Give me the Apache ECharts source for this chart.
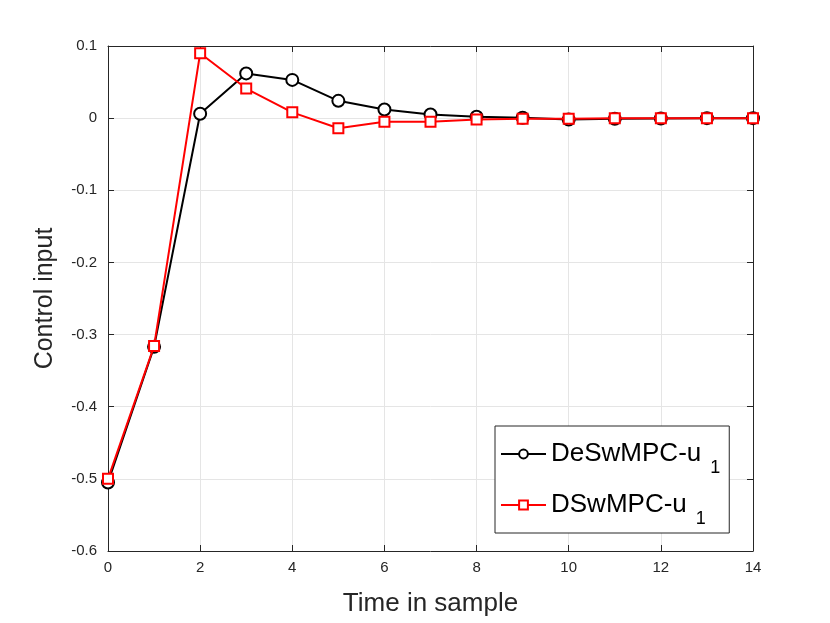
<!DOCTYPE html>
<html><head><meta charset="utf-8">
<script src="https://cdn.jsdelivr.net/npm/echarts@6/dist/echarts.min.js"></script>
<style>html,body{margin:0;padding:0;background:#fff}#c{width:830px;height:623px}</style>
</head><body><div id="c"></div>
<script>
const samples = [0,1,2,3,4,5,6,7,8,9,10,11,12,13,14];
const deswmpc = [-0.505,-0.317,0.006,0.062,0.053,0.024,0.012,0.005,0.002,0.0005,-0.002,-0.001,-0.0005,0,0];
const dswmpc  = [-0.5,-0.316,0.09,0.041,0.008,-0.014,-0.005,-0.005,-0.002,-0.001,-0.001,0,0,0,0];
const xTicks = [0,2,4,6,8,10,12,14];
const yTicks = [-0.6,-0.5,-0.4,-0.3,-0.2,-0.1,0,0.1];
const FONT = 'Liberation Sans';
const chart = echarts.init(document.getElementById('c'));
const axisCommon = {
  axisLine:{show:true,onZero:false,lineStyle:{color:'#262626',width:1}},
  axisTick:{show:true,inside:true,length:6,lineStyle:{color:'#262626'}},
};
chart.setOption({
  animation:false,
  textStyle:{fontFamily:FONT},
  grid:{left:108,right:77,top:46,bottom:72,containLabel:false},
  legend:{
    left:495,top:426,orient:'vertical',
    backgroundColor:'#fff',borderColor:'#262626',borderWidth:1,
    padding:[15,9,5,5],itemGap:15,itemWidth:45,itemHeight:11,
    textStyle:{fontFamily:FONT,fontSize:26,color:'#000',
      rich:{m:{fontSize:26,fontFamily:FONT,color:'#000'},
            s:{fontSize:18,padding:[28,0,0,9],fontFamily:FONT,color:'#000'}}},
    formatter: n => '{m|' + n.replace('-u1','-u') + '}{s|1}',
    data:['DeSwMPC-u1','DSwMPC-u1']
  },
  xAxis:[{
    type:'value',min:0,max:14,interval:2,
    name:'Time in sample',nameLocation:'middle',nameGap:40,
    nameTextStyle:{fontFamily:FONT,fontSize:26,color:'#262626'},
    axisLabel:{fontFamily:FONT,fontSize:15,color:'#262626',margin:9},
    splitLine:{show:true,lineStyle:{color:'#e5e5e5'}},
    ...axisCommon
  },{
    type:'value',position:'top',min:0,max:14,interval:2,
    axisLabel:{show:false},splitLine:{show:false},...axisCommon
  }],
  yAxis:[{
    type:'value',min:-0.6,max:0.1,interval:0.1,
    name:'Control input',nameLocation:'middle',nameGap:50,
    nameTextStyle:{fontFamily:FONT,fontSize:25,color:'#262626'},
    axisLabel:{fontFamily:FONT,fontSize:15,color:'#262626',margin:11,
      formatter:v=>{const r=Math.round(v*10)/10; return r===0?'0':String(r);}},
    splitLine:{show:true,lineStyle:{color:'#e5e5e5'}},
    ...axisCommon
  },{
    type:'value',position:'right',min:-0.6,max:0.1,interval:0.1,
    axisLabel:{show:false},splitLine:{show:false},...axisCommon
  }],
  series:[{
    name:'DeSwMPC-u1',type:'line',
    data:samples.map((x,i)=>[x,deswmpc[i]]),
    symbol:'circle',symbolSize:12,showAllSymbol:true,
    lineStyle:{color:'#000',width:2},
    itemStyle:{color:'#fff',borderColor:'#000',borderWidth:2},
    color:'#000',z:2
  },{
    name:'DSwMPC-u1',type:'line',
    data:samples.map((x,i)=>[x,dswmpc[i]]),
    symbol:'rect',symbolSize:10,showAllSymbol:true,
    lineStyle:{color:'#ff0000',width:2},
    itemStyle:{color:'#fff',borderColor:'#ff0000',borderWidth:2},
    color:'#ff0000',z:3
  }]
});
</script></body></html>
